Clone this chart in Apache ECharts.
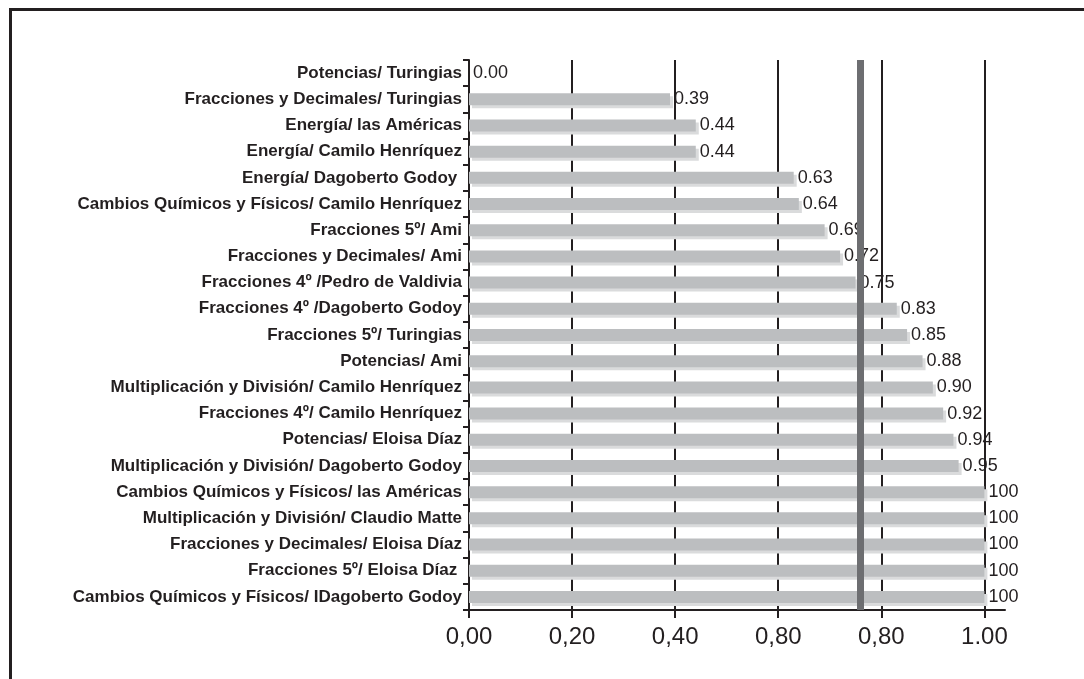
<!DOCTYPE html>
<html>
<head>
<meta charset="utf-8">
<script src="https://cdn.jsdelivr.net/npm/echarts@6/dist/echarts.min.js"></script>
<style>
    html, body { margin: 0; padding: 0; background: #fff; }
    #chart { width: 1084px; height: 679px; }
    .frame { position: absolute; left: 9px; top: 8px; width: 1100px; height: 700px;
             border-top: 3px solid #231f20; border-left: 3px solid #231f20; pointer-events: none; }
</style>
</head>
<body>
<div id="chart"></div>
<div class="frame"></div>
<script>
    var categories = [
        'Potencias/ Turingias',
        'Fracciones y Decimales/ Turingias',
        'Energía/ las Américas',
        'Energía/ Camilo Henríquez',
        'Energía/ Dagoberto Godoy ',
        'Cambios Químicos y Físicos/ Camilo Henríquez',
        'Fracciones 5º/ Ami',
        'Fracciones y Decimales/ Ami',
        'Fracciones 4º /Pedro de Valdivia',
        'Fracciones 4º /Dagoberto Godoy',
        'Fracciones 5º/ Turingias',
        'Potencias/ Ami',
        'Multiplicación y División/ Camilo Henríquez',
        'Fracciones 4º/ Camilo Henríquez',
        'Potencias/ Eloisa Díaz',
        'Multiplicación y División/ Dagoberto Godoy',
        'Cambios Químicos y Físicos/ las Américas',
        'Multiplicación y División/ Claudio Matte',
        'Fracciones y Decimales/ Eloisa Díaz',
        'Fracciones 5º/ Eloisa Díaz ',
        'Cambios Químicos y Físicos/ IDagoberto Godoy'
    ];
    var values = [0, 0.39, 0.44, 0.44, 0.63, 0.64, 0.69, 0.72, 0.75, 0.83, 0.85, 0.88, 0.90, 0.92, 0.94, 0.95, 1, 1, 1, 1, 1];
    var valueLabels = ['0.00', '0.39', '0.44', '0.44', '0.63', '0.64', '0.69', '0.72', '0.75', '0.83', '0.85', '0.88', '0.90', '0.92', '0.94', '0.95', '100', '100', '100', '100', '100'];
    var tickValues = [0, 0.2, 0.4, 0.6, 0.8, 1];
    var tickLabels = ['0,00', '0,20', '0,40', '0,80', '0,80', '1.00'];
    var refValue = 0.755;

    var ink = '#231f20';
    var chart = echarts.init(document.getElementById('chart'));
    var option = {
        animation: false,
        textStyle: { fontFamily: '"Liberation Sans", Arial, sans-serif' },
        grid: { left: 469, right: 79, top: 60, bottom: 69, containLabel: false },
        xAxis: {
            type: 'value',
            min: 0,
            max: 1.04,
            axisLine: { show: true, lineStyle: { color: ink, width: 2 } },
            axisTick: { show: true, length: 8, lineStyle: { color: ink, width: 2 }, customValues: tickValues },
            splitLine: { show: true, lineStyle: { color: ink, width: 2 } },
            axisLabel: {
                customValues: tickValues,
                color: ink,
                fontSize: 24,
                margin: 15,
                formatter: function (v) {
                    var i = tickValues.findIndex(function (t) { return Math.abs(t - v) < 1e-6; });
                    return i >= 0 ? tickLabels[i] : '';
                }
            }
        },
        yAxis: {
            type: 'category',
            inverse: true,
            data: categories,
            axisLine: { show: true, lineStyle: { color: ink, width: 2 } },
            axisTick: { show: true, length: 6, lineStyle: { color: ink, width: 2 } },
            axisLabel: { color: ink, fontSize: 17, fontWeight: 'bold', margin: 7, interval: 0 }
        },
        series: [
            {
                type: 'bar',
                data: values,
                barWidth: 12,
                itemStyle: {
                    color: '#bcbec0',
                    shadowColor: '#dadbdc',
                    shadowOffsetX: 3,
                    shadowOffsetY: 3,
                    shadowBlur: 0
                },
                label: {
                    show: true,
                    position: 'right',
                    distance: 4,
                    color: ink,
                    fontSize: 18,
                    formatter: function (p) { return valueLabels[p.dataIndex]; }
                },
                markLine: {
                    silent: true,
                    symbol: 'none',
                    label: { show: false },
                    lineStyle: { color: '#6d6e71', width: 7, type: 'solid' },
                    data: [{ xAxis: refValue }]
                }
            }
        ]
    };
    chart.setOption(option);
</script>
</body>
</html>
